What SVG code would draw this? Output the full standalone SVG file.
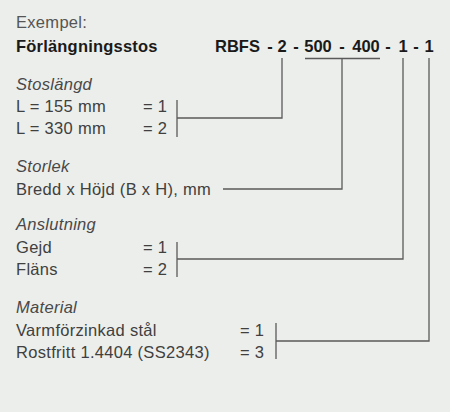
<svg xmlns="http://www.w3.org/2000/svg" width="450" height="412" viewBox="0 0 450 412">
<style>
text{font-family:"Liberation Sans",Arial,sans-serif;font-size:16.5px;fill:#404040;letter-spacing:0.3px}
.h{font-style:italic;fill:#484848}
.b{font-weight:bold;fill:#1a1a1a;letter-spacing:0.2px}
.c{font-weight:bold;fill:#1a1a1a;text-anchor:middle;letter-spacing:0}
.g{fill:#555}
.ln{fill:none;stroke:#5a5a5a;stroke-width:1.3}
</style>
<rect width="450" height="412" fill="#eceeeb"/>
<g id="header">
<text x="16" y="28" class="g">Exempel:</text>
<text x="16" y="52" class="b">Förlängningsstos</text>
<text x="215" y="52" class="b" style="letter-spacing:0">RBFS</text>
<text x="270" y="52" class="c">-</text>
<text x="282" y="52" class="c">2</text>
<text x="296" y="52" class="c">-</text>
<text x="318" y="52" class="c">500</text>
<text x="342" y="52" class="c">-</text>
<text x="366" y="52" class="c">400</text>
<text x="388" y="52" class="c">-</text>
<text x="403" y="52" class="c">1</text>
<text x="416" y="52" class="c">-</text>
<text x="429" y="52" class="c">1</text>
</g>
<g id="stoslangd">
<text x="16" y="90" class="h">Stoslängd</text>
<text x="16" y="112">L = 155 mm</text>
<text x="143" y="112">= 1</text>
<text x="16" y="134">L = 330 mm</text>
<text x="143" y="134">= 2</text>
</g>
<g id="storlek">
<text x="16" y="172" class="h">Storlek</text>
<text x="16" y="195">Bredd x Höjd (B x H), mm</text>
</g>
<g id="anslutning">
<text x="16" y="230" class="h">Anslutning</text>
<text x="16" y="253">Gejd</text>
<text x="143" y="253">= 1</text>
<text x="16" y="275">Fläns</text>
<text x="143" y="275">= 2</text>
</g>
<g id="material">
<text x="16" y="313" class="h">Material</text>
<text x="16" y="336">Varmförzinkad stål</text>
<text x="240" y="336">= 1</text>
<text x="16" y="358">Rostfritt 1.4404 (SS2343)</text>
<text x="240" y="358">= 3</text>
</g>
<g id="connectors">
<path class="ln" d="M305 58.5H380"/>
<path class="ln" d="M177 100V137M177 118H282V58"/>
<path class="ln" d="M223 189H342V58.5"/>
<path class="ln" d="M177 242V277M177 259H403V58"/>
<path class="ln" d="M276 323V359M276 341H429V58"/>
</g>
</svg>
